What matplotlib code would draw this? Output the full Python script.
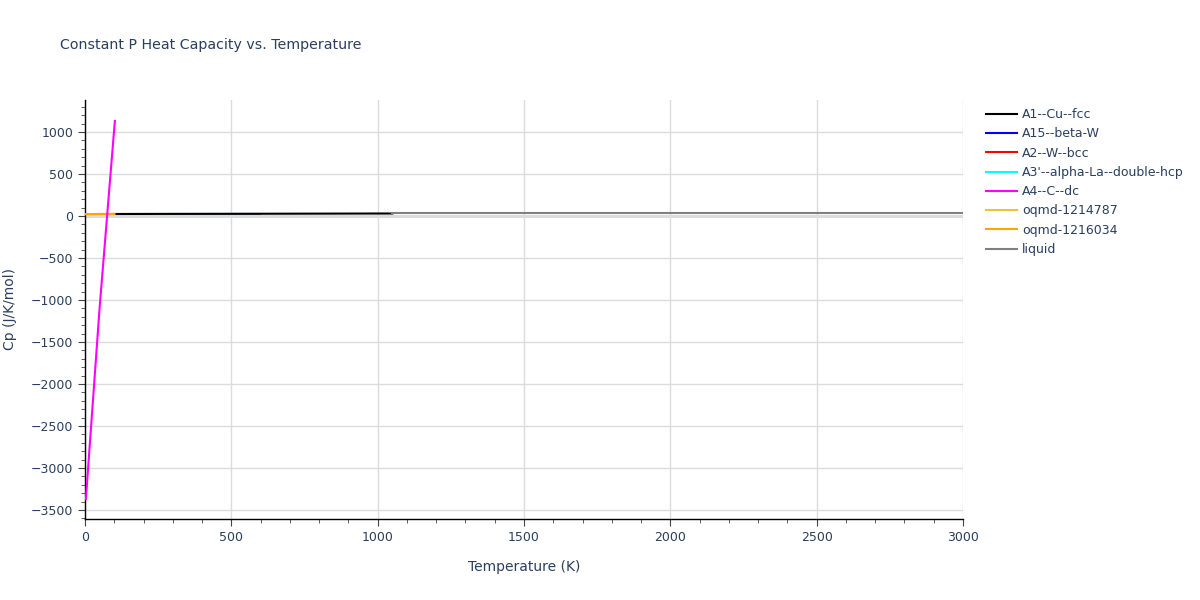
import numpy as np
import matplotlib
matplotlib.use("Agg")
import matplotlib.pyplot as plt
from matplotlib.ticker import MultipleLocator

# Phase data (T in K, Cp in J/K/mol)
names = ["A1--Cu--fcc", "A15--beta-W", "A2--W--bcc", "A3'--alpha-La--double-hcp",
         "A4--C--dc", "oqmd-1214787", "oqmd-1216034", "liquid"]
colors = ["black", "blue", "red", "cyan", "magenta", "#f0c040", "orange", "gray"]

t_fcc = [100, 300, 600, 900, 1050]
cp_fcc = [24, 25.5, 27, 29, 30]
t_a15 = [100, 300, 600]
cp_a15 = [24, 25.5, 27]
t_bcc = [100, 300, 600]
cp_bcc = [24, 25.5, 27]
t_dhcp = [100, 300, 600]
cp_dhcp = [24, 25.5, 27]
t_dc = [3, 50, 102]
cp_dc = [-3370, -1090, 1131]
t_o1 = [0, 50, 100]
cp_o1 = [22, 24, 25]
t_o2 = [0, 50, 100]
cp_o2 = [22, 24, 25]
t_liq = [1050, 1250, 2000, 3000]
cp_liq = [31, 31, 31, 31]

series = [(t_fcc, cp_fcc), (t_a15, cp_a15), (t_bcc, cp_bcc), (t_dhcp, cp_dhcp),
          (t_dc, cp_dc), (t_o1, cp_o1), (t_o2, cp_o2), (t_liq, cp_liq)]

plt.rcParams['font.family'] = ['DejaVu Sans']
txt = '#2a3f5f'
tick_c = '#444444'

fig = plt.figure(figsize=(12, 6), dpi=100)
ax = fig.add_axes([85/1200, 1 - 519/600, 878/1200, 419/600])

# hidden phases sit under the fcc curve in the reference
zorders = [3.5, 3.1, 3.2, 3.3, 4.0, 3.6, 3.7, 3.8]
widths = [1.5, 1.0, 1.0, 1.0, 1.5, 1.5, 1.5, 1.5]
for i, (t, cp) in enumerate(series):
    ax.plot(t, cp, color=colors[i], lw=widths[i], zorder=zorders[i])

handles = [plt.Line2D([], [], color=c, lw=1.5) for c in colors]
fig.legend(handles, names, loc='upper left', bbox_to_anchor=(0.8175, 0.828),
           frameon=False, fontsize=9, handlelength=2.5, handletextpad=0.4,
           labelspacing=0.5, labelcolor=txt, borderaxespad=0)

ax.set_xlim(0, 3000)
ax.set_ylim(-3607, 1381)
ax.xaxis.set_major_locator(MultipleLocator(500))
ax.xaxis.set_minor_locator(MultipleLocator(100))
ax.yaxis.set_major_locator(MultipleLocator(500))
ax.yaxis.set_minor_locator(MultipleLocator(100))

ax.grid(True, which='major', color='#dcdcdc', lw=1, zorder=0)
ax.axhline(0, color='#d8d8d8', lw=2, zorder=1)
for s in ['top', 'right']:
    ax.spines[s].set_visible(False)
for s in ['left', 'bottom']:
    ax.spines[s].set_color('black')
    ax.spines[s].set_linewidth(1)

ax.tick_params(which='major', length=5, color=tick_c, labelsize=9, labelcolor=txt, direction='out')
ax.tick_params(which='minor', length=3, color=tick_c, direction='out')

ax.set_xlabel("Temperature (K)", fontsize=10, color=txt, labelpad=12)
ax.set_ylabel("Cp (J/K/mol)", fontsize=10, color=txt, labelpad=10)
fig.text(60/1200, 1 - 45/600, "Constant P Heat Capacity vs. Temperature",
         fontsize=10.2, color=txt, va='center', ha='left')

fig.savefig("out.png", dpi=100)
